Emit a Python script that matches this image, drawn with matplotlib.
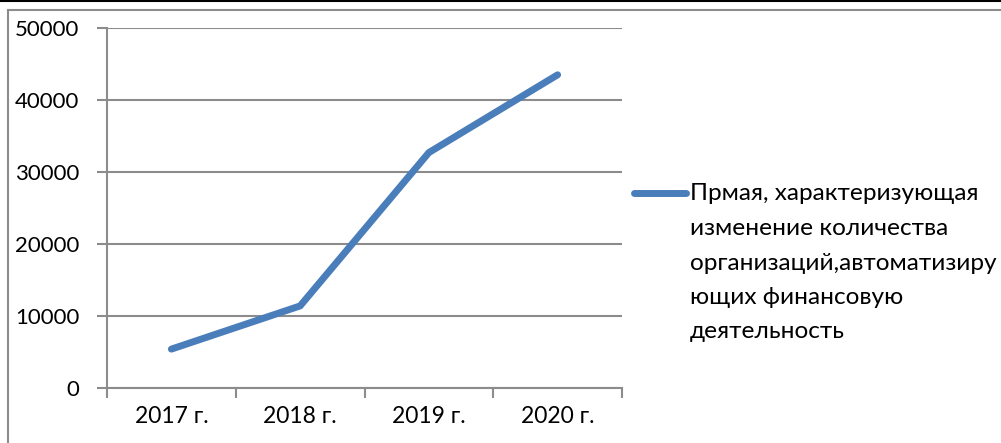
import matplotlib
matplotlib.use("Agg")
import matplotlib.pyplot as plt
from matplotlib.lines import Line2D

plt.rcParams['font.family'] = ['Lato', 'Open Sans', 'DejaVu Sans']

categories = ["2017 г.", "2018 г.", "2019 г.", "2020 г."]
values = [5400, 11400, 32700, 43500]
yticks = [0, 10000, 20000, 30000, 40000, 50000]
legend_lines = ["Прмая, характеризующая", "изменение количества",
                "организаций,автоматизиру", "ющих финансовую", "деятельность"]

W, H = 1001, 443
fig = plt.figure(figsize=(W / 100, H / 100), dpi=100)

def fx(px):
    return px / W

def fy(py):
    return 1 - py / H

grey = '#8c8c8c'
blue = '#4a7ebb'

# outer borders
fig.add_artist(Line2D([0, 1], [fy(0.5), fy(0.5)], color='black', lw=1.5))
fig.add_artist(Line2D([fx(8), 1], [fy(10), fy(10)], color=grey, lw=1.5))
fig.add_artist(Line2D([fx(8), fx(8)], [fy(10), 0], color=grey, lw=1.5))

left, right, top, bottom = 107, 622, 28, 388
ax = fig.add_axes([fx(left), fy(bottom), fx(right) - fx(left), fy(top) - fy(bottom)])

x = list(range(len(categories)))
ax.plot(x, values, color=blue, lw=5, solid_capstyle='round', solid_joinstyle='round', zorder=3)
ax.set_xlim(-0.5, len(categories) - 0.5)
ax.set_ylim(0, 50000)
ax.set_yticks(yticks)
ax.set_yticklabels([str(v) for v in yticks], fontsize=16)
ax.set_xticks(x)
ax.set_xticklabels(categories, fontsize=16.5)
ax.set_xticks([i - 0.5 for i in range(len(categories) + 1)], minor=True)
ax.tick_params(axis='x', which='major', length=0, pad=13)
ax.tick_params(axis='x', which='minor', length=7, width=1.5, color=grey)
ax.tick_params(axis='y', length=7, width=1.5, color=grey, pad=13)
ax.yaxis.grid(True, color=grey, lw=1.5)
ax.set_axisbelow(True)
for s in ['top', 'right']:
    ax.spines[s].set_visible(False)
for s in ['left', 'bottom']:
    ax.spines[s].set_color(grey)
    ax.spines[s].set_linewidth(1.5)

# legend
fig.add_artist(Line2D([fx(634), fx(686)], [fy(193), fy(193)], color=blue, lw=5, solid_capstyle='round'))
for i, t in enumerate(legend_lines):
    fig.text(fx(690), fy(194 + i * 34.5), t, fontsize=17.6, va='center', ha='left')

fig.savefig("out.png", dpi=100)
